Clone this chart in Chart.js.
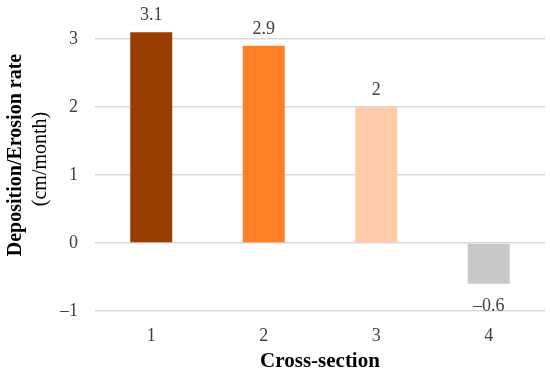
<!DOCTYPE html>
<html>
<head>
<meta charset="utf-8">
<script src="https://cdn.jsdelivr.net/npm/chart.js@4"></script>
<style>
  html, body { margin: 0; padding: 0; background: #fff; }
  #wrap { width: 550px; height: 372px; }
</style>
</head>
<body>
<div id="wrap"><canvas id="chart"></canvas></div>
<script>
// cross sections and rates (cm/month)
var sections = ['1', '2', '3', '4'];
var rates = [3.1, 2.9, 2, -0.6];
var barColors = ['#993D00', '#FF7F27', '#FFCBA9', '#C8C8C8'];
var yTicks = [-1, 0, 1, 2, 3];

var serif = "'Liberation Serif', 'Times New Roman', serif";

function fmt(v) {
    // minus sign drawn as en dash like the original
    return v < 0 ? '\u2013' + Math.abs(v) : String(v);
}

// value labels above / below each bar
var valueLabels = {
    id: 'valueLabels',
    afterDatasetsDraw: function (chart) {
        let ctx = chart.ctx;
        let meta = chart.getDatasetMeta(0);
        ctx.save();
        ctx.font = '18px ' + serif;
        ctx.fillStyle = '#404040';
        ctx.textAlign = 'center';
        ctx.textBaseline = 'middle';
        meta.data.forEach(function (bar, i) {
            let v = rates[i];
            if (v >= 0) {
                ctx.fillText(fmt(v), bar.x, bar.y - 17);
            } else {
                ctx.fillText(fmt(v), bar.x, bar.y + 22);
            }
        });
        ctx.restore();
    }
};

// two-line y title: bold first line, normal second line
var yTitle = {
    id: 'yTitle',
    afterDraw: function (chart) {
        let ctx = chart.ctx;
        let area = chart.chartArea;
        let cy = (area.top + area.bottom) / 2;
        ctx.save();
        ctx.fillStyle = '#000';
        ctx.textAlign = 'center';
        ctx.textBaseline = 'middle';
        ctx.translate(16, cy - 3);
        ctx.rotate(-Math.PI / 2);
        ctx.font = 'bold 20px ' + serif;
        ctx.fillText('Deposition/Erosion rate', 0, 0);
        ctx.restore();
        ctx.save();
        ctx.fillStyle = '#000';
        ctx.textAlign = 'center';
        ctx.textBaseline = 'middle';
        ctx.translate(41, cy + 1);
        ctx.rotate(-Math.PI / 2);
        ctx.font = '20px ' + serif;
        ctx.fillText('(cm/month)', 0, 0);
        ctx.restore();
    }
};

new Chart(document.getElementById('chart').getContext('2d'), {
    type: 'bar',
    data: {
        labels: sections,
        datasets: [{
            data: rates,
            backgroundColor: barColors,
            borderWidth: 0,
            barPercentage: 0.373,
            categoryPercentage: 1
        }]
    },
    options: {
        responsive: true,
        maintainAspectRatio: false,
        animation: false,
        layout: { padding: { top: 5, right: 5, left: 0, bottom: 0 } },
        plugins: {
            legend: { display: false },
            tooltip: { enabled: false }
        },
        scales: {
            x: {
                grid: { display: false, drawTicks: false },
                border: { display: false },
                ticks: {
                    padding: 14,
                    color: '#404040',
                    font: { family: serif, size: 18 }
                },
                title: {
                    display: true,
                    text: 'Cross-section',
                    color: '#000',
                    font: { family: serif, size: 21, weight: 'bold' },
                    padding: { top: 0, bottom: -2 }
                },
                afterFit: function (axis) {
                    axis.height = 61;
                    axis.paddingLeft = 0;
                    axis.paddingRight = 0;
                }
            },
            y: {
                min: -1,
                max: 3.5,
                afterBuildTicks: function (axis) {
                    axis.ticks = yTicks.map(function (v) { return { value: v }; });
                },
                grid: { color: '#D9D9D9', lineWidth: 1.5, drawTicks: false },
                border: { display: false },
                ticks: {
                    padding: 17,
                    color: '#404040',
                    font: { family: serif, size: 18 },
                    callback: function (v) { return fmt(v); }
                },
                afterFit: function (axis) {
                    axis.width = 95;
                    axis.paddingTop = 0;
                    axis.paddingBottom = 0;
                }
            }
        }
    },
    plugins: [valueLabels, yTitle]
});
</script>
</body>
</html>
